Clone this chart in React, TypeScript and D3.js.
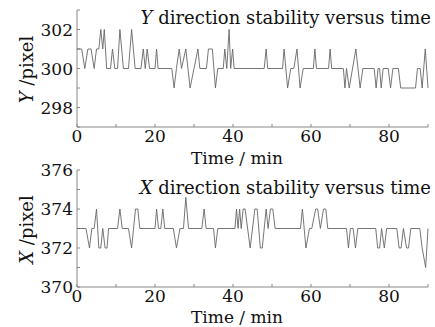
import React from 'react';
import * as d3 from 'd3';

// Y direction: vertices of the trace (time in min, position in pixel)
const yTimes = [0, 1.2, 2.0, 2.8, 3.6, 4.4, 5.0, 5.6, 6.1, 6.6, 7.0, 7.6, 8.6, 9.1, 9.7, 10.4, 11.0, 11.9, 13.2, 14.0, 14.9, 16.4, 17.0, 17.5, 18.0, 18.6, 20.0, 20.4, 20.8, 24.3, 24.9, 25.5, 26.2, 26.8, 27.9, 29.0, 30.0, 31.0, 31.5, 33.2, 33.7, 34.7, 35.5, 36.1, 37.5, 37.9, 38.4, 39.0, 39.4, 39.9, 40.3, 48.0, 48.5, 48.9, 52.7, 53.1, 54.0, 54.8, 55.6, 56.4, 57.2, 58.0, 60.6, 61.0, 61.4, 64.5, 64.9, 65.3, 68.3, 68.7, 69.1, 69.8, 71.5, 72.6, 73.3, 76.2, 76.7, 77.2, 77.6, 78.0, 78.5, 79.8, 80.4, 81.0, 82.4, 83.0, 86.8, 87.3, 88.0, 88.5, 89.3, 90.0];
const yValues = [301, 301, 300, 301, 301, 300, 301, 301, 302, 301, 302, 300, 300, 301, 300, 300, 302, 300, 300, 302, 300, 300, 301, 300, 301, 300, 300, 301, 300, 300, 299, 300, 301, 300, 301, 299, 300, 301, 300, 300, 301, 301, 299, 300, 300, 301, 300, 302, 300, 301, 300, 300, 301, 300, 300, 301, 299, 300, 300, 301, 299, 300, 300, 301, 300, 300, 301, 300, 300, 299, 300, 299, 301, 299, 300, 300, 299, 300, 300, 299, 300, 300, 299, 300, 300, 299, 299, 300, 300, 299, 301, 299];

// X direction
const xTimes = [0, 2.3, 3.2, 3.8, 4.4, 5.0, 5.6, 6.1, 6.6, 7.2, 7.7, 8.1, 10.4, 11.0, 11.6, 13.2, 14.0, 15.0, 15.6, 16.1, 20.0, 20.4, 20.9, 21.5, 22.0, 22.5, 24.7, 25.5, 26.4, 27.3, 27.9, 28.6, 32.0, 32.6, 33.1, 35.0, 35.5, 36.1, 40.5, 40.9, 41.3, 41.7, 42.1, 42.6, 43.1, 44.4, 45.6, 46.2, 47.0, 47.5, 48.5, 49.0, 49.6, 50.2, 50.8, 57.3, 57.8, 58.7, 59.6, 60.2, 61.2, 61.7, 62.4, 63.2, 63.8, 64.3, 69.1, 69.6, 70.1, 70.8, 71.4, 72.0, 76.6, 77.1, 77.6, 78.1, 78.8, 79.4, 82.0, 82.6, 83.1, 83.7, 84.5, 85.0, 85.6, 87.9, 88.5, 89.4, 90.0];
const xValues = [373, 373, 372, 373, 373, 374, 372, 372, 373, 372, 372, 373, 373, 374, 373, 373, 372, 374, 374, 373, 373, 374, 373, 373, 374, 373, 373, 372, 373, 373, 374.6, 373, 373, 374, 373, 373, 372, 373, 373, 374, 373, 374, 373, 374, 374, 372, 374, 374, 372, 372, 374, 373, 374, 374, 373, 373, 374, 372, 373, 373, 374, 374, 373, 374, 374, 373, 373, 372, 373, 373, 372, 373, 373, 372, 372, 373, 372, 373, 373, 372, 372, 373, 372, 372, 373, 373, 372, 371, 373];

const xTickLabels = [0, 20, 40, 60, 80];
const yTickLabelsTop = [298, 300, 302];
const yTickLabelsBottom = [370, 372, 374, 376];

const font = "'DejaVu Serif', serif";
const axisColor = '#888';

function Panel({ times, values, domain, ticks, top, bottom, titleY, axisVar, xLabelY }: any) {
    const x = d3.scaleLinear().domain([0, 90]).range([77, 428]);
    const y = d3.scaleLinear().domain(domain).range([bottom, top]);
    const pts = times.map((t: number, i: number) => [t, values[i]]);
    const line = d3.line<number[]>().x(d => x(d[0])).y(d => y(d[1]));
    const minorX = d3.range(0, 91, 10);
    const minorY = d3.range(domain[0], domain[1] + 1, 1);
    const yMid = (top + bottom) / 2 + 1;

    return (
        <g>
            <line x1={77} x2={77} y1={top} y2={bottom} stroke={axisColor} />
            <line x1={77} x2={428} y1={bottom} y2={bottom} stroke={axisColor} />
            {minorX.map(t => (
                <line key={'xt' + t} x1={x(t)} x2={x(t)} y1={bottom} y2={bottom - 3} stroke={axisColor} />
            ))}
            {minorY.map(v => (
                <line key={'yt' + v} x1={77} x2={80} y1={y(v)} y2={y(v)} stroke={axisColor} />
            ))}
            {xTickLabels.map(t => (
                <text key={'xl' + t} x={x(t)} y={bottom + 15} textAnchor="middle" fontSize={17}>{t}</text>
            ))}
            {ticks.map((v: number) => (
                <text key={'yl' + v} x={73} y={y(v) + 6} textAnchor="end" fontSize={17}>{v}</text>
            ))}
            <path d={line(pts) || ''} fill="none" stroke="#666" strokeWidth={0.9} />
            <text x={431} y={titleY} textAnchor="end" fontSize={18}>
                <tspan fontStyle="italic">{axisVar}</tspan> direction stability versus time
            </text>
            <text x={237} y={xLabelY} textAnchor="middle" fontSize={17}>Time / min</text>
            <text transform={`translate(33, ${yMid})rotate(-90)`} textAnchor="middle" fontSize={18}>
                <tspan fontStyle="italic">{axisVar}</tspan> /pixel
            </text>
        </g>
    );
}

export default function App() {
    return (
        <svg width={435} height={327} style={{ position: 'absolute', left: 0, top: 0, background: '#fff' }}
            fontFamily={font} fill="#111">
            <Panel times={yTimes} values={yValues} domain={[297, 303]} ticks={yTickLabelsTop}
                top={10} bottom={127} titleY={24} axisVar="Y" xLabelY={164} />
            <Panel times={xTimes} values={xValues} domain={[370, 376]} ticks={yTickLabelsBottom}
                top={170} bottom={287} titleY={194} axisVar="X" xLabelY={323} />
        </svg>
    );
}
